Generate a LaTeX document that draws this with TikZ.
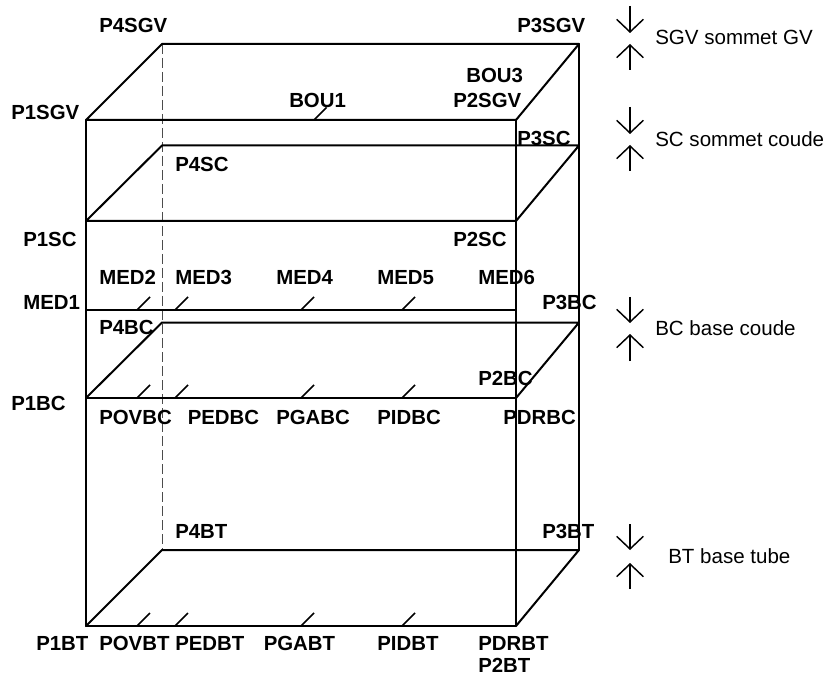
\documentclass[tikz,border=0pt]{standalone}
\usepackage{fontspec}
\setmainfont{Liberation Sans}
\usepackage{tikz}
\usetikzlibrary{calc, arrows.meta}
\tikzstyle{point} = [anchor=west, inner sep=0pt, text height=11pt, text depth=0pt, font=\bfseries\fontsize{15.3}{18}\selectfont]
\tikzstyle{level} = [anchor=west, inner sep=0pt, text height=11pt, text depth=0pt, font=\fontsize{15.4}{18}\selectfont]
\tikzstyle{edge} = [line width=1.5pt, line join=round, line cap=round]
\tikzstyle{thinedge} = [line width=1.2pt, line cap=round]
\tikzstyle{hidden} = [line width=0.6pt, dash pattern=on 7.5pt off 3pt, color=black!70]
\tikzstyle{marker} = [line width=1.1pt]
\tikzstyle{limit} = [line width=1.1pt, -{Straight Barb[length=9.5pt, width=20pt, line width=1.1pt]}]

\begin{document}
\begin{tikzpicture}[x=0.75pt, y=-0.75pt]
        \useasboundingbox (0, 0) rectangle (828, 677);

        \coordinate (SgvA) at (86, 120);
        \coordinate (SgvB) at (516, 120);
        \coordinate (SgvC) at (579, 44);
        \coordinate (SgvD) at (162, 44);
        \coordinate (ScA) at (86, 221);
        \coordinate (ScB) at (516, 221);
        \coordinate (ScC) at (579, 145.5);
        \coordinate (ScD) at (162, 145.5);
        \coordinate (MedA) at (86, 310);
        \coordinate (MedB) at (516, 310);
        \coordinate (BcA) at (86, 398);
        \coordinate (BcB) at (516, 398);
        \coordinate (BcC) at (579, 322.5);
        \coordinate (BcD) at (162, 322.5);
        \coordinate (BtA) at (86, 626);
        \coordinate (BtB) at (516, 626);
        \coordinate (BtC) at (579, 550);
        \coordinate (BtD) at (162, 550);

        \draw[hidden] (SgvD) -- (BtD);

        \draw[edge] (SgvA) -- (SgvB) -- (SgvC) -- (SgvD) -- cycle;
        \draw[edge] (ScA) -- (ScB) -- (ScC) -- (ScD) -- cycle;
        \draw[edge] (BcB) -- (BcC) -- (BcD) -- (BcA);
        \draw[edge] (BtB) -- (BtC) -- (BtD) -- (BtA);
        \draw[edge] (SgvA) -- (BtA);
        \draw[edge] (SgvB) -- (BtB);
        \draw[edge] (SgvC) -- (BtC);
        \draw[thinedge] (MedA) -- (MedB);
        \draw[thinedge] (BcA) -- (BcB);
        \draw[thinedge] (BtA) -- (BtB);

        \coordinate (Bou) at (314, 120);
        \draw[marker] (Bou) -- ++(12.5, -12.5);

        \coordinate (MedTwo) at (137, 310);
        \coordinate (MedThree) at (175, 310);
        \coordinate (MedFour) at (301, 310);
        \coordinate (MedFive) at (402, 310);
        \draw[marker] (MedTwo) -- ++(13, -13);
        \draw[marker] (MedThree) -- ++(13, -13);
        \draw[marker] (MedFour) -- ++(13, -13);
        \draw[marker] (MedFive) -- ++(13, -13);

        \coordinate (PovBc) at (137, 398);
        \coordinate (PedBc) at (175, 398);
        \coordinate (PgaBc) at (301, 398);
        \coordinate (PidBc) at (402, 398);
        \draw[marker] (PovBc) -- ++(13, -13);
        \draw[marker] (PedBc) -- ++(13, -13);
        \draw[marker] (PgaBc) -- ++(13, -13);
        \draw[marker] (PidBc) -- ++(13, -13);

        \coordinate (PovBt) at (137, 626);
        \coordinate (PedBt) at (175, 626);
        \coordinate (PgaBt) at (301, 626);
        \coordinate (PidBt) at (402, 626);
        \draw[marker] (PovBt) -- ++(13, -13);
        \draw[marker] (PedBt) -- ++(13, -13);
        \draw[marker] (PgaBt) -- ++(13, -13);
        \draw[marker] (PidBt) -- ++(13, -13);

        \node[point] at (99, 25) (LabelPfourSgv) {P4SGV};
        \node[point] at (517, 25) (LabelPthreeSgv) {P3SGV};
        \node[point] at (289, 100) (LabelBouOne) {BOU1};
        \node[point] at (466, 75) (LabelBouThree) {BOU3};
        \node[point] at (453, 100) (LabelPtwoSgv) {P2SGV};
        \node[point] at (11, 112) (LabelPoneSgv) {P1SGV};
        \node[point] at (175, 164) (LabelPfourSc) {P4SC};
        \node[point] at (517, 138) (LabelPthreeSc) {P3SC};
        \node[point] at (23, 239.5) (LabelPoneSc) {P1SC};
        \node[point] at (453, 239.5) (LabelPtwoSc) {P2SC};
        \node[point] at (99, 277.5) (LabelMedTwo) {MED2};
        \node[point] at (175, 277.5) (LabelMedThree) {MED3};
        \node[point] at (276, 277.5) (LabelMedFour) {MED4};
        \node[point] at (377, 277.5) (LabelMedFive) {MED5};
        \node[point] at (478, 277.5) (LabelMedSix) {MED6};
        \node[point] at (23, 302.5) (LabelMedOne) {MED1};
        \node[point] at (542, 302.5) (LabelPthreeBc) {P3BC};
        \node[point] at (99, 327) (LabelPfourBc) {P4BC};
        \node[point] at (478, 378) (LabelPtwoBc) {P2BC};
        \node[point] at (11, 403) (LabelPoneBc) {P1BC};
        \node[point] at (99, 417) (LabelPovBc) {POVBC};
        \node[point] at (187.5, 417) (LabelPedBc) {PEDBC};
        \node[point] at (276, 417) (LabelPgaBc) {PGABC};
        \node[point] at (377, 417) (LabelPidBc) {PIDBC};
        \node[point] at (503, 417) (LabelPdrBc) {PDRBC};
        \node[point] at (175, 531) (LabelPfourBt) {P4BT};
        \node[point] at (542, 531) (LabelPthreeBt) {P3BT};
        \node[point] at (36, 643) (LabelPoneBt) {P1BT};
        \node[point] at (99, 643) (LabelPovBt) {POVBT};
        \node[point] at (175, 643) (LabelPedBt) {PEDBT};
        \node[point] at (263.5, 643) (LabelPgaBt) {PGABT};
        \node[point] at (377, 643) (LabelPidBt) {PIDBT};
        \node[point] at (478, 643) (LabelPdrBt) {PDRBT};
        \node[point] at (478, 665) (LabelPtwoBt) {P2BT};

        \node[level] at (655, 37) (LevelSgv) {SGV sommet GV};
        \node[level] at (655, 139) (LevelSc) {SC sommet coude};
        \node[level] at (655, 328) (LevelBc) {BC base coude};
        \node[level] at (668, 556) (LevelBt) {BT base tube};

        \coordinate (SgvDownStart) at (630, 6);
        \coordinate (SgvDownEnd) at (630, 33);
        \coordinate (SgvUpStart) at (630, 70);
        \coordinate (SgvUpEnd) at (630, 44);
        \draw[limit] (SgvDownStart) -- (SgvDownEnd);
        \draw[limit] (SgvUpStart) -- (SgvUpEnd);

        \coordinate (ScDownStart) at (630, 107);
        \coordinate (ScDownEnd) at (630, 134);
        \coordinate (ScUpStart) at (630, 171);
        \coordinate (ScUpEnd) at (630, 145);
        \draw[limit] (ScDownStart) -- (ScDownEnd);
        \draw[limit] (ScUpStart) -- (ScUpEnd);

        \coordinate (BcDownStart) at (630, 297);
        \coordinate (BcDownEnd) at (630, 323);
        \coordinate (BcUpStart) at (630, 361);
        \coordinate (BcUpEnd) at (630, 334);
        \draw[limit] (BcDownStart) -- (BcDownEnd);
        \draw[limit] (BcUpStart) -- (BcUpEnd);

        \coordinate (BtDownStart) at (630, 524);
        \coordinate (BtDownEnd) at (630, 550);
        \coordinate (BtUpStart) at (630, 589);
        \coordinate (BtUpEnd) at (630, 563);
        \draw[limit] (BtDownStart) -- (BtDownEnd);
        \draw[limit] (BtUpStart) -- (BtUpEnd);
    \end{tikzpicture}
\end{document}
